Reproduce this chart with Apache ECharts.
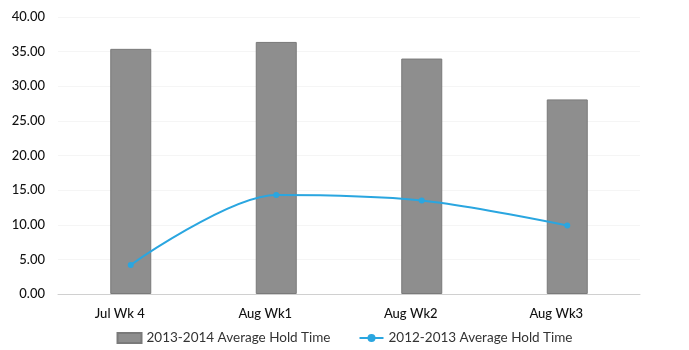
<!DOCTYPE html>
<html>
<head>
<meta charset="utf-8">
<script src="https://cdn.jsdelivr.net/npm/echarts@6/dist/echarts.min.js"></script>
<style>
  html, body { margin: 0; padding: 0; background: #fff; }
  #chart { width: 689px; height: 350px; }
</style>
</head>
<body>
<div id="chart"></div>
<script>
// weeks on the x axis
const weeks = ['Jul Wk 4', 'Aug Wk1', 'Aug Wk2', 'Aug Wk3'];
// 2013-2014 average hold time (bars)
const hold2014 = [35.4, 36.4, 34.0, 28.1];
// 2012-2013 average hold time (line)
const hold2013 = [4.2, 14.3, 13.5, 9.9];

const chart = echarts.init(document.getElementById('chart'));

chart.setOption({
  animation: false,
  textStyle: { fontFamily: 'Lato' },
  legend: {
    bottom: 0,
    left: 'center',
    itemGap: 28,
    itemWidth: 24,
    itemHeight: 10,
    textStyle: { fontSize: 13.5, color: '#333' },
    data: [
      { name: '2013-2014 Average Hold Time', icon: 'rect' },
      { name: '2012-2013 Average Hold Time' }
    ]
  },
  grid: {
    left: 58,
    right: 49,
    top: 17,
    bottom: 56
  },
  xAxis: {
    type: 'category',
    data: weeks,
    axisLine: { lineStyle: { color: '#d0d0d0' } },
    axisTick: { show: false },
    axisLabel: {
      color: '#111',
      fontSize: 13,
      fontWeight: 500,
      margin: 13,
      padding: [0, 22, 0, 0]
    }
  },
  yAxis: {
    type: 'value',
    min: 0,
    max: 40,
    interval: 5,
    axisLine: { show: false },
    axisTick: { show: false },
    axisLabel: {
      color: '#111',
      fontSize: 13,
      fontWeight: 500,
      margin: 13,
      formatter: (v) => v.toFixed(2)
    },
    splitLine: { lineStyle: { color: '#f5f5f5' } }
  },
  series: [
    {
      name: '2013-2014 Average Hold Time',
      type: 'bar',
      data: hold2014,
      barWidth: 41,
      itemStyle: {
        color: '#8e8e8e',
        borderColor: '#7a7a7a',
        borderWidth: 1
      }
    },
    {
      name: '2012-2013 Average Hold Time',
      type: 'line',
      data: hold2013,
      smooth: 0.3,
      symbol: 'circle',
      symbolSize: 6,
      lineStyle: { color: '#2aa6e0', width: 2 },
      itemStyle: { color: '#2aa6e0' }
    }
  ]
});
</script>
</body>
</html>
